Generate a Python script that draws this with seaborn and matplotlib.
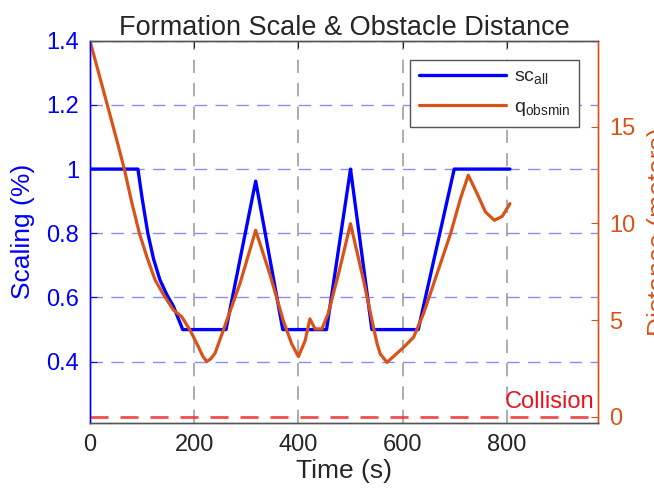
import numpy as np
import pandas as pd
import matplotlib
matplotlib.use("Agg")
import matplotlib.pyplot as plt
import seaborn as sns

# ---- data ----
t_sc = [0, 92, 100, 111, 122, 134, 147, 160, 178, 261, 318, 370, 454, 500, 541, 630, 699, 806]
sc_all = [1.0, 1.0, 0.91, 0.80, 0.72, 0.656, 0.61, 0.573, 0.50, 0.50, 0.9625, 0.50, 0.50, 1.0, 0.50, 0.50, 1.0, 1.0]

t_q = [0, 25, 51, 66, 80, 95, 110, 125, 140, 160, 176, 192, 208, 216, 224, 232, 240, 256, 272, 288, 318,
       345, 371, 387, 400, 413, 422, 432, 445, 457, 477, 500, 525, 544, 551, 557, 570,
       602, 621, 640, 666, 692, 711, 726, 743, 759, 776, 791, 806]
q_obsmin = [19.44, 16.95, 14.35, 12.8, 11.1, 9.47, 8.2, 7.07, 6.36, 5.52, 5.17, 4.48, 3.62, 3.15, 2.85, 3.0, 3.28, 4.48, 5.69, 6.9, 9.64,
            7.39, 4.97, 3.77, 3.11, 3.94, 5.06, 4.54, 4.54, 5.32, 7.39, 9.98, 7.05, 4.63, 3.77, 3.25, 2.81,
            3.59, 4.11, 5.32, 7.39, 9.47, 11.28, 12.49, 11.54, 10.59, 10.16, 10.36, 11.02]

collision_level = [0]
x_ticks = [0, 200, 400, 600, 800]
left_ticks = [0.4, 0.6, 0.8, 1.0, 1.2, 1.4]
left_ticklabels = ["0.4", "0.6", "0.8", "1", "1.2", "1.4"]
right_ticks = [0, 5, 10, 15]

# ---- style ----
sns.set_style("white")
plt.rcParams['font.family'] = ['Liberation Sans', 'DejaVu Sans']

BLUE = "#0000FF"
ORANGE = "#D95319"
DARK = "#262626"

fig = plt.figure(figsize=(6.54, 4.92), dpi=100)
ax = fig.add_axes([0.1376, 0.1409, 0.7768, 0.7764])
ax2 = ax.twinx()

df_sc = pd.DataFrame({"t": t_sc, "v": sc_all})
df_q = pd.DataFrame({"t": t_q, "v": q_obsmin})

sns.lineplot(data=df_sc, x="t", y="v", ax=ax, color=BLUE, linewidth=2.4,
             label=r"sc$_{\mathregular{all}}$", legend=False, solid_joinstyle="round", solid_capstyle="round")
sns.lineplot(data=df_q, x="t", y="v", ax=ax2, color=ORANGE, linewidth=2.3,
             label=r"q$_{\mathregular{obsmin}}$", legend=False, solid_joinstyle="round", solid_capstyle="round")

# collision line
for c in collision_level:
    ax2.axhline(c, color="#EE3B3B", linewidth=2.0, dashes=(6.5, 4.3), alpha=0.9)
ax2.text(968, 0.45, "Collision", color="#E8141E", fontsize=17, ha="right", va="baseline")

# limits
ax.set_xlim(0, 975)
ax.set_ylim(0.21, 1.4)
ax2.set_ylim(-0.31, 19.45)

# grid
ax.set_xticks(x_ticks)
ax.set_yticks(left_ticks)
ax.set_yticklabels(left_ticklabels)
ax2.set_yticks(right_ticks)
ax.yaxis.grid(True, color="#7070F0", linestyle=(0, (9, 6)), linewidth=1.0, alpha=0.8)
ax.xaxis.grid(True, color="#A0A0A0", linestyle=(0, (8, 6)), linewidth=1.2)
ax.set_axisbelow(True)
ax2.grid(False)

# spines
for sp in ["top", "bottom"]:
    ax.spines[sp].set_color("#555555")
    ax2.spines[sp].set_color("#555555")
ax.spines["left"].set_color(BLUE)
ax2.spines["left"].set_color(BLUE)
ax2.spines["right"].set_color(ORANGE)
ax.spines["right"].set_color(ORANGE)
for s in ax.spines.values():
    s.set_linewidth(1.0)
for s in ax2.spines.values():
    s.set_linewidth(1.0)

# ticks
ax.tick_params(axis="x", direction="in", length=5, colors=DARK, labelsize=17, pad=8, top=True)
ax.tick_params(axis="y", direction="in", length=5, colors=BLUE, labelsize=17, pad=8)
ax2.tick_params(axis="y", direction="in", length=5, colors=ORANGE, labelsize=17, pad=8)

# labels
ax.set_xlabel("Time (s)", fontsize=19, color=DARK, labelpad=2)
ax.set_ylabel("Scaling (%)", fontsize=19, color=BLUE)
ax.yaxis.set_label_coords(-0.108, 0.5)
ax2.set_ylabel("Distance (meters)", fontsize=19, color=ORANGE)
ax2.yaxis.set_label_coords(1.0965, 0.5)
ax.set_title("Formation Scale & Obstacle Distance", fontsize=19.5, color=DARK, pad=4)

# legend
h1, l1 = ax.get_legend_handles_labels()
h2, l2 = ax2.get_legend_handles_labels()
leg = ax2.legend(h1 + h2, l1 + l2, loc="upper right", bbox_to_anchor=(0.963, 0.95),
                 fontsize=14, frameon=True, fancybox=False, edgecolor="#555555",
                 framealpha=1.0, handlelength=4.45, labelspacing=0.55, borderpad=0.45,
                 handletextpad=0.45, borderaxespad=0)
leg.get_frame().set_linewidth(1.0)

fig.savefig("out.png", dpi=100)
